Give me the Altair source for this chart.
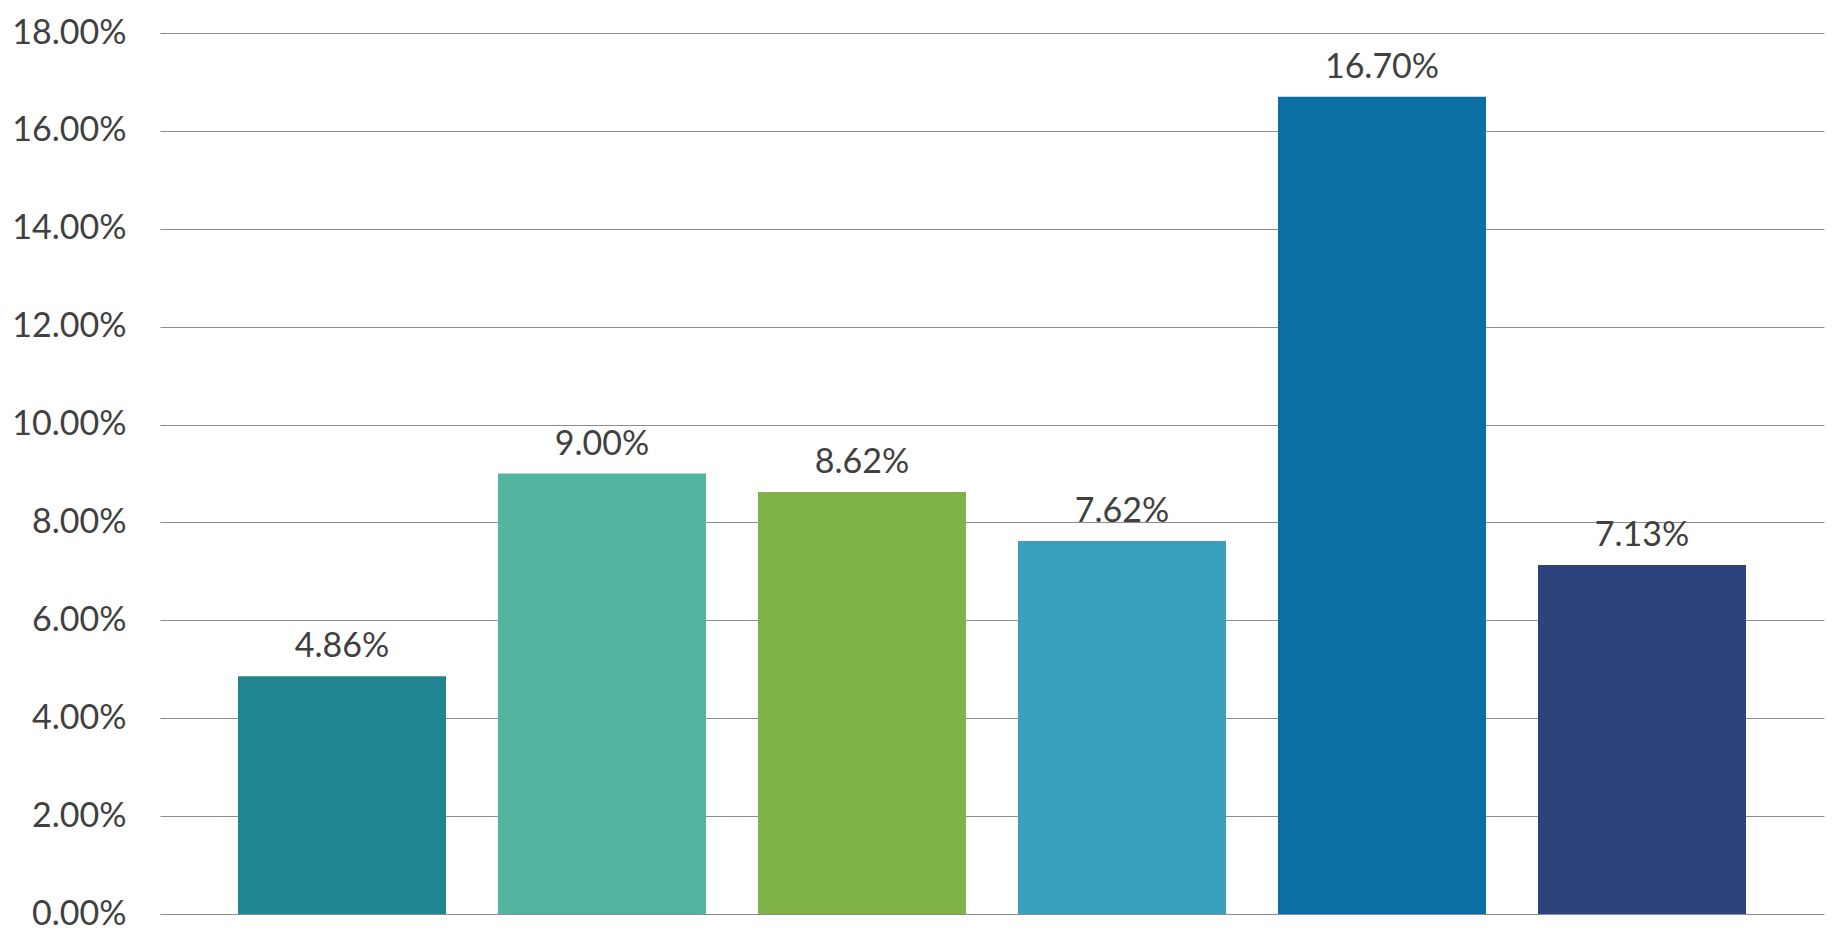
import altair as alt
import pandas as pd

categories = ["C1", "C2", "C3", "C4", "C5", "C6"]
values = [0.0486, 0.0900, 0.0862, 0.0762, 0.1670, 0.0713]
colors = ["#208590", "#53B59F", "#80B24A", "#3BA0BE", "#0A6FA3", "#2E437B"]
y_ticks = [0.0, 0.02, 0.04, 0.06, 0.08, 0.10, 0.12, 0.14, 0.16, 0.18]

df = pd.DataFrame({"cat": categories, "val": values})

FONT = "Lato"
TXT = "#404040"
FS = 34

x = alt.X("cat:N", sort=categories,
          scale=alt.Scale(paddingInner=0.2, paddingOuter=0.3),
          axis=None)
y = alt.Y("val:Q", scale=alt.Scale(domain=[0, 0.18], nice=False),
          axis=alt.Axis(values=y_ticks, format=".2%", title=None,
                        domain=False, ticks=False, labelPadding=34,
                        labelFont=FONT, labelFontSize=FS, labelColor=TXT,
                        gridColor="#8C8C8C", gridWidth=1.2))

bars = alt.Chart(df).mark_bar().encode(
    x=x, y=y,
    color=alt.Color("cat:N", scale=alt.Scale(domain=categories, range=colors), legend=None),
)

labels = alt.Chart(df).mark_text(
    font=FONT, fontSize=FS, color=TXT, baseline="alphabetic", dy=-19
).encode(
    x=x, y=y, text=alt.Text("val:Q", format=".2%")
)

chart = alt.layer(bars, labels).properties(
    width=1664, height=881,
    autosize=alt.AutoSizeParams(type="none"),
    padding={"left": 152, "top": 25, "right": 15, "bottom": 26},
).configure(background="white").configure_view(stroke=None, strokeWidth=0)

chart.save("out.html", embed_options={"renderer": "svg", "actions": False})
